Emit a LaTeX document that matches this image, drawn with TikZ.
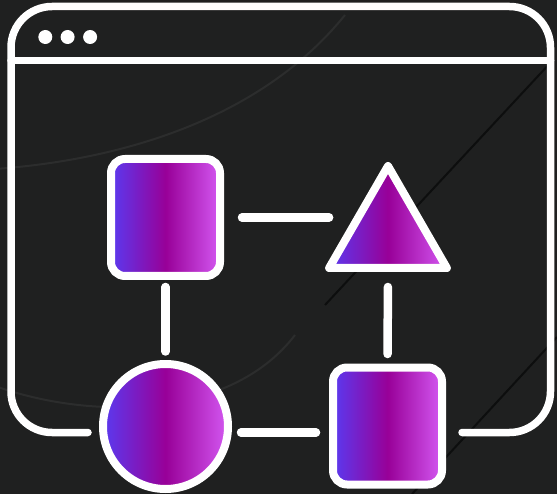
\documentclass[tikz,border=0pt]{standalone}
\usetikzlibrary{shapes.geometric,calc}
\definecolor{bg}{HTML}{1F2020}
\definecolor{gL}{RGB}{90,58,240}
\definecolor{gM}{RGB}{152,0,152}
\definecolor{gR}{RGB}{212,88,242}
\definecolor{faintlight}{HTML}{2C2D2D}
\definecolor{faintdark}{HTML}{0D0E0E}
\tikzset{
  win/.style={draw=white, line width=7.5pt, line cap=round, line join=round},
  conn/.style={draw=white, line width=8.5pt, line cap=round},
  shp/.style={draw=white, line width=8pt, line join=round, inner sep=0pt, outer sep=0pt,
              left color=gL, right color=gR, middle color=gM},
  boxshape/.style={shp, rectangle, rounded corners=14pt, minimum width=109pt, minimum height=117pt},
  dotshape/.style={circle, fill=white, minimum size=14pt, inner sep=0pt},
}
\begin{document}
\begin{tikzpicture}[x=1pt,y=-1pt]
\fill[bg] (0,0) rectangle (557,494);
\useasboundingbox (0,0) rectangle (557,494);
% subtle background strokes
\draw[faintlight, line width=2pt] (-5,169) .. controls (120,160) and (260,120) .. (345,15);
\draw[faintlight, line width=2pt] (-5,386) .. controls (90,420) and (230,420) .. (295,335);
\draw[faintdark, line width=2pt] (553,60) -- (325,305);
\draw[faintdark, line width=2pt] (557,337) -- (412,494);
% window frame
\coordinate (wb) at (0,432.5);
\draw[win, rounded corners=41pt] (88,432.5) -- (11,432.5) -- (11,6.5) -- (550.5,6.5) -- (550.5,432.5) -- (462,432.5);
\draw[win] (11,60.5) -- (550.5,60.5);
\node[dotshape] (d1) at (45.3,37) {};
\node[dotshape] (d2) at (67.6,37) {};
\node[dotshape] (d3) at (90.1,37) {};
% shapes
\node[boxshape] (sq1) at (165.5,217.5) {};
\node[boxshape] (sq2) at (387.5,426) {};
\node[shp, circle, minimum size=125pt] (circ) at (165.5,426.5) {};
\node[shp, regular polygon, regular polygon sides=3, minimum size=136pt] (tri) at (388,234) {};
% connectors
\draw[conn, shorten <=11pt, shorten >=12.5pt] (sq1.south) -- (circ.north);
\draw[conn, shorten <=22pt] (sq1.east) -- (sq1.east -| tri.corner 2);
\draw[conn, shorten <=19pt, shorten >=13.5pt] (tri.side 2) -- (sq2.north);
\draw[conn, shorten <=13pt, shorten >=17pt] (circ.east |- wb) -- (sq2.west |- wb);
\end{tikzpicture}
\end{document}
